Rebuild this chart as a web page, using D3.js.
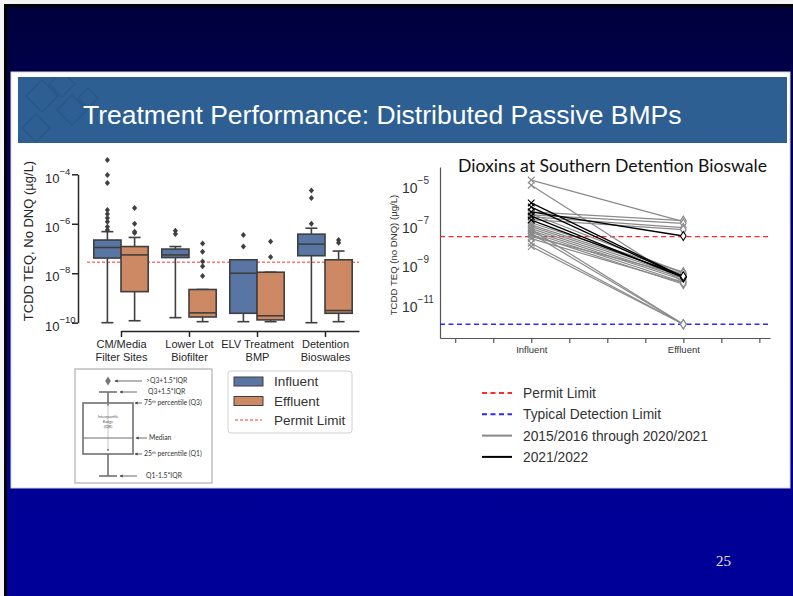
<!DOCTYPE html>
<html><head><meta charset="utf-8">
<script src="https://cdn.jsdelivr.net/npm/d3@7"></script>
<style>html,body{margin:0;padding:0;background:#fff}svg{display:block}</style>
</head><body>
<svg id="c" width="793" height="596"></svg>
<script>
// ---------------- DATA ----------------
const slideTitle = "Treatment Performance: Distributed Passive BMPs";
const slideNumber = "25";

// Left: box plots
const boxCategories = [["CM/Media","Filter Sites"],["Lower Lot","Biofilter"],["ELV Treatment","BMP"],["Detention","Bioswales"]];
const boxSeries = ["Influent","Effluent"];
// [lower whisker, Q1, median, Q3, upper whisker]
const influentStats = [
  [1.0e-10, 4.1e-8, 1.1e-7, 2.2e-7, 4.8e-7],
  [1.6e-10, 4.3e-8, 5.5e-8, 9.5e-8, 1.2e-7],
  [1.1e-10, 2.4e-10, 1.0e-8, 3.5e-8, 3.5e-8],
  [1.0e-10, 5.1e-8, 1.5e-7, 3.8e-7, 6.6e-7]
];
const effluentStats = [
  [1.2e-10, 1.8e-9, 5.5e-8, 1.2e-7, 2.8e-7],
  [1.1e-10, 1.7e-10, 2.5e-10, 2.2e-9, 2.2e-9],
  [1.1e-10, 1.3e-10, 1.9e-10, 1.1e-8, 1.1e-8],
  [1.1e-10, 2.4e-10, 3.1e-10, 3.5e-8, 7.9e-8]
];
const influentOutliers = [
  [3.8e-4, 9.3e-5, 4.4e-5, 3.6e-6, 2.5e-6, 1.7e-6, 1.2e-6, 7.6e-7, 5.6e-7],
  [5.2e-7, 3.9e-7],
  [3.5e-7, 1.2e-7],
  [2.2e-5, 1.1e-5, 1.0e-6]
];
const effluentOutliers = [
  [4.3e-6, 1.0e-6, 4.8e-7, 4.2e-7],
  [1.6e-7, 7.4e-8, 3.0e-8, 1.9e-8, 7.8e-9],
  [1.9e-7, 4.5e-8],
  [2.2e-7, 1.7e-7]
];
const leftYTicks = [1e-4, 1e-6, 1e-8, 1e-10];
const leftPermitLimit = 2.8e-8;
const leftYLabel = "TCDD TEQ, No DNQ (µg/L)";
const leftLegend = ["Influent", "Effluent", "Permit Limit"];

// Box-plot key
const keyLabels = [">Q3+1.5*IQR", "Q3+1.5*IQR", "75", "Median", "25", "Q1-1.5*IQR"];

// Right: paired influent / effluent
const rightTitle = "Dioxins at Southern Detention Bioswale";
const rightYLabel = "TCDD TEQ (no DNQ) (µg/L)";
const rightXLabels = ["Influent", "Effluent"];
const rightYTicks = [1e-5, 1e-7, 1e-9, 1e-11];
const permitLimit = 2.8e-8;
const detectionLimit = 1.05e-12;
const greyInfluent = [2.0e-5, 1.1e-5, 5.0e-7, 3.5e-7, 2.8e-7, 2.0e-7, 1.4e-7, 1.1e-7, 8.9e-8, 7.1e-8, 5.6e-8, 4.5e-8, 3.5e-8, 2.8e-8, 6.3e-8, 4.0e-8, 1.3e-8, 8.9e-9, 2.2e-8, 4.0e-7];
const greyEffluent = [1.6e-7, 1.4e-10, 1.8e-7, 1.3e-7, 7.9e-8, 6.3e-8, 4.5e-10, 3.5e-10, 2.8e-10, 2.2e-10, 1.8e-10, 1.4e-10, 1.1e-10, 3.2e-10, 1.05e-12, 1.05e-12, 1.05e-12, 1.05e-12, 1.3e-10, 4.0e-10];
const blackInfluent = [1.4e-6, 8.7e-7, 4.9e-7, 3.0e-7, 1.9e-7];
const blackEffluent = [2.6e-10, 2.5e-10, 3.0e-8, 2.4e-10, 2.8e-10];
const rightLegend = ["Permit Limit", "Typical Detection Limit", "2015/2016 through 2020/2021", "2021/2022"];

// ---------------- DRAW ----------------
const svg = d3.select("#c");
const SANS = "'Liberation Sans', Arial, sans-serif";
const defs = svg.append("defs");
const grad = defs.append("linearGradient").attr("id","bg").attr("x1",0).attr("y1",0).attr("x2",0).attr("y2",1);
[[0,"#00003c"],[0.13,"#00004c"],[0.82,"#000095"],[1,"#000099"]].forEach(s=>grad.append("stop").attr("offset",s[0]).attr("stop-color",s[1]));
defs.append("marker").attr("id","arr").attr("viewBox","0 0 6 6").attr("refX",5).attr("refY",3)
  .attr("markerWidth",4).attr("markerHeight",4).attr("orient","auto")
  .append("path").attr("d","M0,0L6,3L0,6Z").attr("fill","#444");
defs.append("clipPath").attr("id","band").append("rect").attr("x",18).attr("y",77).attr("width",769).attr("height",66);

// slide frame + background
svg.append("rect").attr("width",793).attr("height",596).attr("fill","#f4f4f4");
svg.append("rect").attr("x",4).attr("y",4).attr("width",789).attr("height",592).attr("fill","#000");
svg.append("rect").attr("x",7).attr("y",7).attr("width",786).attr("height",589).attr("fill","url(#bg)");
// white panel
svg.append("rect").attr("x",11).attr("y",72).attr("width",779).attr("height",416).attr("fill","#fff").attr("stroke","#d4d4d4");
// title band
svg.append("rect").attr("x",18).attr("y",77).attr("width",769).attr("height",66).attr("fill","#2e5f93");
const deco = svg.append("g").attr("clip-path","url(#band)").attr("fill","none").attr("stroke","#285687").attr("stroke-width",1.2).attr("opacity",0.8);
[[42,96,16],[62,84,13],[72,110,15],[36,128,14],[88,98,10]].forEach(d=>{
  deco.append("path").attr("d",`M${d[0]},${d[1]-d[2]}L${d[0]+d[2]},${d[1]}L${d[0]},${d[1]+d[2]}L${d[0]-d[2]},${d[1]}Z`);
});
svg.append("text").attr("x",83).attr("y",124).attr("fill","#fff").attr("font-family",SANS)
  .attr("font-size",26.5).text(slideTitle);
svg.append("text").attr("x",716).attr("y",566).attr("fill","#e6e6e6").attr("font-family","'Liberation Serif', serif")
  .attr("font-size",15).text(slideNumber);

function supLabel(text, v, base, sup, dyBase, dySup){
  const e = Math.round(Math.log10(v));
  text.text(null).attr("dy", null);
  text.append("tspan").attr("dy", dyBase).attr("font-size", base).text("10");
  text.append("tspan").attr("dy", dySup).attr("font-size", sup).text("\u2212" + Math.abs(e));
}

// ---------- LEFT CHART ----------
const L = svg.append("g");
const axisCol = "#262626", edgeCol = "#3f3f3f";
const colors = {Influent:"#5875a4", Effluent:"#cc8963"};
const yL = d3.scaleLog().domain([1e-10, 1e-4]).range([322.7, 174.3]);
const xL = d3.scaleLinear().domain([0, boxCategories.length - 0.5]).range([121, 359]);
const step = xL(1) - xL(0);
const bw = step * 0.4;
const sub = d3.scaleBand().domain(boxSeries).range([-bw, bw]);

// y axis
const gy = L.append("g").attr("transform",`translate(${78},0)`)
  .call(d3.axisLeft(yL).tickValues(leftYTicks).tickSize(6).tickPadding(3).tickSizeOuter(0));
gy.select(".domain").attr("stroke",axisCol).attr("stroke-width",1.5);
gy.selectAll(".tick line").attr("stroke",axisCol).attr("stroke-width",1.5);
gy.selectAll(".tick text").attr("fill",axisCol).attr("font-family",SANS).attr("text-anchor","start").attr("x",-33)
  .each(function(d){ supLabel(d3.select(this), d, 13, 9.5, 7.7, -8); });
L.append("text").attr("transform","translate(32.5,241) rotate(-90)").attr("text-anchor","middle")
  .attr("font-family",SANS).attr("font-size",13).attr("fill",axisCol).text(leftYLabel);

// x axis
const gx = L.append("g").attr("transform",`translate(0,${331})`)
  .call(d3.axisBottom(xL).tickValues(d3.range(boxCategories.length)).tickSize(6).tickSizeOuter(0));
gx.select(".domain").attr("stroke",axisCol).attr("stroke-width",1.5);
gx.selectAll(".tick line").attr("stroke",axisCol).attr("stroke-width",1.5);
gx.selectAll(".tick text").attr("fill",axisCol).attr("font-family",SANS).attr("font-size",11)
  .each(function(d){
    const t = d3.select(this).text(null).attr("dy",null).attr("y",17);
    boxCategories[d].forEach((s,k)=>t.append("tspan").attr("x",0).attr("dy", k===0?0:12.7).text(s));
  });

// permit limit
L.append("line").attr("x1",xL(-0.5)).attr("x2",xL(boxCategories.length-0.5))
  .attr("y1",yL(leftPermitLimit)).attr("y2",yL(leftPermitLimit))
  .attr("stroke","#ff3030").attr("stroke-width",1).attr("stroke-dasharray","3,2");

// boxes
const diamond = "M0,-3L2.6,0L0,3L-2.6,0Z";
boxSeries.forEach(s=>{
  const stats = s==="Influent" ? influentStats : effluentStats;
  const outs = s==="Influent" ? influentOutliers : effluentOutliers;
  stats.forEach((st,i)=>{
    const x0 = xL(i) + sub(s), xc = x0 + bw/2;
    const g = L.append("g").attr("stroke",edgeCol).attr("stroke-width",1.6);
    g.append("line").attr("x1",xc).attr("x2",xc).attr("y1",yL(st[0])).attr("y2",yL(st[1]));
    g.append("line").attr("x1",xc).attr("x2",xc).attr("y1",yL(st[3])).attr("y2",yL(st[4]));
    g.append("line").attr("x1",xc-bw*0.22).attr("x2",xc+bw*0.22).attr("y1",yL(st[0])).attr("y2",yL(st[0]));
    g.append("line").attr("x1",xc-bw*0.22).attr("x2",xc+bw*0.22).attr("y1",yL(st[4])).attr("y2",yL(st[4]));
    g.append("rect").attr("x",x0).attr("width",bw).attr("y",yL(st[3])).attr("height",yL(st[1])-yL(st[3]))
      .attr("fill",colors[s]);
    g.append("line").attr("x1",x0).attr("x2",x0+bw).attr("y1",yL(st[2])).attr("y2",yL(st[2]));
    outs[i].forEach(v=>{
      L.append("path").attr("d",diamond).attr("transform",`translate(${xc},${yL(v)})`).attr("fill",edgeCol);
    });
  });
});

// left legend
const lg = L.append("g");
lg.append("rect").attr("x",228).attr("y",371).attr("width",124).attr("height",62).attr("rx",3)
  .attr("fill","#fff").attr("stroke","#d0d0d0");
leftLegend.forEach((name,k)=>{
  const yy = [381.5, 401, 420][k];
  if(k<2){
    lg.append("rect").attr("x",234).attr("y",yy-4.5).attr("width",29).attr("height",9)
      .attr("fill",colors[name]).attr("stroke",edgeCol).attr("stroke-width",1);
  } else {
    lg.append("line").attr("x1",235).attr("x2",262).attr("y1",yy).attr("y2",yy)
      .attr("stroke","#ff3030").attr("stroke-width",1).attr("stroke-dasharray","3,2");
  }
  lg.append("text").attr("x",274).attr("y",yy+4.7).attr("font-family",SANS).attr("font-size",13.5)
    .attr("fill","#333").text(name);
});

// box-plot key diagram
const K = svg.append("g");
const KF = "Lato, 'Liberation Sans', sans-serif";
K.append("rect").attr("x",75).attr("y",369).attr("width",137).attr("height",114).attr("fill","#fff").attr("stroke","#a0a0a0");
const kc = 108;
const kg = K.append("g").attr("stroke","#707070").attr("stroke-width",1.6);
kg.append("line").attr("x1",kc).attr("x2",kc).attr("y1",392).attr("y2",403);
kg.append("line").attr("x1",kc).attr("x2",kc).attr("y1",454).attr("y2",476);
kg.append("line").attr("x1",99).attr("x2",117).attr("y1",392).attr("y2",392);
kg.append("line").attr("x1",99).attr("x2",117).attr("y1",476).attr("y2",476);
kg.append("rect").attr("x",83).attr("y",403).attr("width",50).attr("height",51).attr("fill","none");
kg.append("line").attr("x1",83).attr("x2",133).attr("y1",438).attr("y2",438).attr("stroke-width",1.2);
K.append("line").attr("x1",kc).attr("x2",kc).attr("y1",406).attr("y2",451).attr("stroke","#888").attr("stroke-width",0.5)
  .attr("marker-start","url(#arr)").attr("marker-end","url(#arr)");
K.append("path").attr("d","M0,-4.5L2.8,0L0,4.5L-2.8,0Z").attr("transform",`translate(${kc},381)`).attr("fill","#777");
const keyRows = [[381,142,115,146],[392,137,120,148],[403,142,135,144],[438,147,136,149],[454,142,135,144],[476,137,120,146]];
keyRows.forEach((r,k)=>{
  K.append("line").attr("x1",r[1]).attr("x2",r[2]).attr("y1",r[0]).attr("y2",r[0])
    .attr("stroke","#444").attr("stroke-width",0.8).attr("marker-end","url(#arr)");
  const t = K.append("text").attr("x",r[3]).attr("y",r[0]+2.3).attr("font-family",KF).attr("font-size",6.8).attr("fill","#333");
  if(k===2 || k===4){
    t.append("tspan").text(keyLabels[k]);
    t.append("tspan").attr("font-size",4.2).attr("dy",-2.5).text("th");
    t.append("tspan").attr("dy",2.5).text(k===2?" percentile (Q3)":" percentile (Q1)");
  } else t.text(keyLabels[k]);
});
["Interquartile","Range","(IQR)"].forEach((s,k)=>{
  K.append("text").attr("x",kc).attr("y",418+k*5).attr("text-anchor","middle").attr("font-family",KF)
    .attr("font-size",3.8).attr("fill","#555").text(s);
});

// ---------- RIGHT CHART ----------
const R = svg.append("g");
const rAxis = "#555";
const yR = d3.scaleLog().domain([Math.pow(10,-12.67), Math.pow(10,-4.04)]).range([338,167]);
const xR = d3.scaleLinear().domain([-0.6, 1.57]).range([440, 770]);

R.append("text").attr("x",458).attr("y",171.5).attr("font-family","Lato, 'Noto Sans', sans-serif")
  .attr("font-size",17.5).attr("fill","#111").attr("textLength",309).attr("lengthAdjust","spacingAndGlyphs").text(rightTitle);

const ry = R.append("g").attr("transform","translate(440,0)")
  .call(d3.axisLeft(yR).tickValues(rightYTicks).tickSize(0).tickPadding(13).tickSizeOuter(0));
ry.select(".domain").attr("stroke",rAxis).attr("stroke-width",1.2);
ry.selectAll(".tick text").attr("fill","#333").attr("font-family",SANS).attr("text-anchor","start").attr("x",-38)
  .each(function(d){ supLabel(d3.select(this), d, 14, 10, 6.7, -9); });
R.append("text").attr("transform","translate(397,255) rotate(-90)").attr("text-anchor","middle")
  .attr("font-family",SANS).attr("font-size",9.6).attr("fill","#333").text(rightYLabel);

const rx = R.append("g").attr("transform","translate(0,338)")
  .call(d3.axisBottom(xR).tickValues(d3.range(-0.5, 1.51, 0.25)).tickSize(5).tickPadding(3).tickSizeOuter(0)
    .tickFormat(d => Math.abs(d) < 1e-9 ? rightXLabels[0] : Math.abs(d-1) < 1e-9 ? rightXLabels[1] : ""));
rx.select(".domain").attr("stroke",rAxis).attr("stroke-width",1.2);
rx.selectAll(".tick line").attr("stroke",rAxis).attr("stroke-width",1.2);
rx.selectAll(".tick text").attr("fill","#333").attr("font-family",SANS).attr("font-size",9.5);

// limit lines
R.append("line").attr("x1",xR.range()[0]).attr("x2",xR.range()[1]).attr("y1",yR(permitLimit)).attr("y2",yR(permitLimit))
  .attr("stroke","#ff2a2a").attr("stroke-width",1.4).attr("stroke-dasharray","5,3.5");
R.append("line").attr("x1",xR.range()[0]).attr("x2",xR.range()[1]).attr("y1",yR(detectionLimit)).attr("y2",yR(detectionLimit))
  .attr("stroke","#2a2aff").attr("stroke-width",1.4).attr("stroke-dasharray","5,3.5");

const xMark = "M-3.3,-3.3L3.3,3.3M-3.3,3.3L3.3,-3.3";
const dMark = "M0,-4.5L2.8,0L0,4.5L-2.8,0Z";
function drawPairs(inf, eff, col, w){
  const g = R.append("g");
  inf.forEach((v,i)=>{
    g.append("line").attr("x1",xR(0)).attr("y1",yR(v)).attr("x2",xR(1)).attr("y2",yR(eff[i]))
      .attr("stroke",col).attr("stroke-width",w);
  });
  inf.forEach(v=>g.append("path").attr("d",xMark).attr("transform",`translate(${xR(0)},${yR(v)})`)
    .attr("stroke",col).attr("stroke-width",1.1).attr("fill","none"));
  eff.forEach(v=>g.append("path").attr("d",dMark).attr("transform",`translate(${xR(1)},${yR(v)})`)
    .attr("stroke",col).attr("stroke-width",1.1).attr("fill","#fff"));
}
drawPairs(greyInfluent, greyEffluent, "#8a8a8a", 1.2);
drawPairs(blackInfluent, blackEffluent, "#000", 1.3);

// right legend
const rl = R.append("g");
const rlStyles = [["#ff2a2a","5,3.5",2],["#2a2aff","5,3.5",2],["#888","",2],["#000","",2]];
rightLegend.forEach((name,k)=>{
  const yy = 393 + k*21.3;
  rl.append("line").attr("x1",482).attr("x2",512).attr("y1",yy).attr("y2",yy)
    .attr("stroke",rlStyles[k][0]).attr("stroke-width",rlStyles[k][2]).attr("stroke-dasharray",rlStyles[k][1]||null);
  rl.append("text").attr("x",523).attr("y",yy+5).attr("font-family",SANS).attr("font-size",13.8)
    .attr("fill","#333").text(name);
});
</script>
</body></html>
